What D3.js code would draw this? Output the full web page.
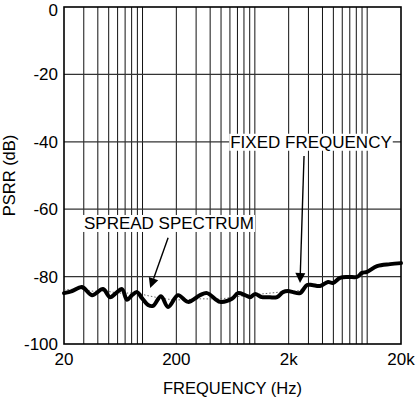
<!DOCTYPE html>
<html><head><meta charset="utf-8">
<script src="https://cdn.jsdelivr.net/npm/d3@7"></script>
<style>
html,body{margin:0;padding:0;background:#fff;}
svg{display:block;font-family:"Liberation Sans",Arial,sans-serif;}
</style></head>
<body><svg id="c" width="416" height="401"></svg>
<script>
// ---- data ----
const xTickValues = [20, 200, 2000, 20000];
const xTickLabels = ["20", "200", "2k", "20k"];
const yTickValues = [0, -20, -40, -60, -80, -100];
const yTickLabels = ["0", "-20", "-40", "-60", "-80", "-100"];

const spreadFreq = [20, 23.6, 28.9, 35.5, 44.5, 51.3, 59.3, 65.7, 72.8, 80.6, 89.3, 98.9, 112, 124, 146, 169, 207, 254, 325, 375, 490, 626, 708, 818, 906, 1003, 1158, 1283, 1575, 1781, 1973, 2186, 2524, 2914, 3228, 3802, 4480, 4962, 5730, 6751, 8118, 8994, 9963, 12232, 15962, 20000];
const spreadDb = [-84.9, -84.3, -83.1, -85.5, -83.7, -86.1, -84.6, -83.7, -86.9, -85.5, -84.6, -86.4, -88.4, -88.7, -85.8, -89.0, -85.5, -87.5, -85.5, -84.9, -87.5, -86.6, -84.9, -85.5, -86.1, -85.2, -86.1, -86.1, -86.1, -84.6, -84.3, -84.6, -84.9, -82.5, -82.5, -82.8, -81.6, -81.9, -80.4, -80.1, -80.1, -78.9, -78.6, -76.9, -76.3, -76.0];

const fixedFreq = [20, 27.8, 35.5, 46.3, 63, 85.7, 117, 159, 216, 325, 490, 738, 1111, 1675, 2524, 2914, 3228, 3802, 4480, 4962, 5730, 6751, 8118, 8994, 9963, 12232, 15962, 20000];
const fixedDb = [-84.0, -83.7, -84.3, -84.3, -84.9, -84.9, -85.8, -86.6, -86.9, -86.6, -86.6, -85.8, -85.2, -84.6, -84.0, -82.5, -82.5, -82.8, -81.6, -81.9, -80.4, -80.1, -80.1, -78.9, -78.6, -76.9, -76.3, -76.0];

const annTexts = ["SPREAD SPECTRUM", "FIXED FREQUENCY"];
const annTextFreq = [172, 3162];
const annTextDb = [-64.1, -40];
const annTailFreq = [169, 2740];
const annTailDb = [-68.5, -44.2];
const annTipFreq = [117, 2524];
const annTipDb = [-83.4, -81.9];

// ---- chart ----
const svg = d3.select("#c");
const L = 64, R = 401, T = 7, B = 344;
const x = d3.scaleLog().domain([20, 20000]).range([L, R]);
const y = d3.scaleLinear().domain([-100, 0]).range([B, T]);

// grid: vertical log lines
const vGrid = [];
[10, 100, 1000, 10000].forEach(d => { for (let k = 1; k <= 9; k++) { const v = d * k; if (v > 20 && v < 20000) vGrid.push(v); } });
svg.append("g").selectAll("line").data(vGrid).join("line")
  .attr("x1", d => x(d)).attr("x2", d => x(d)).attr("y1", T).attr("y2", B)
  .attr("stroke", "#111").attr("stroke-width", 1);
svg.append("g").selectAll("line").data(yTickValues.filter(v => v > -100 && v < 0)).join("line")
  .attr("x1", L).attr("x2", R).attr("y1", d => y(d)).attr("y2", d => y(d))
  .attr("stroke", "#333").attr("stroke-width", 1.2);

// frame
svg.append("rect").attr("x", L).attr("y", T).attr("width", R - L).attr("height", B - T)
  .attr("fill", "none").attr("stroke", "#000").attr("stroke-width", 1.6);

// tick labels
svg.append("g").selectAll("text").data(yTickValues).join("text")
  .attr("x", 58).attr("y", d => Math.max(y(d) + 6, 16)).attr("text-anchor", "end")
  .attr("font-size", 17).text((d, i) => yTickLabels[i]);
svg.append("g").selectAll("text").data(xTickValues).join("text")
  .attr("x", d => x(d)).attr("y", 365).attr("text-anchor", "middle")
  .attr("font-size", 17).text((d, i) => xTickLabels[i]);

// axis titles
svg.append("text").attr("transform", `translate(15,${(T + B) / 2}) rotate(-90)`)
  .attr("text-anchor", "middle").attr("font-size", 16.5).text("PSRR (dB)");
svg.append("text").attr("x", (L + R) / 2).attr("y", 394).attr("text-anchor", "middle")
  .attr("font-size", 16.5).text("FREQUENCY (Hz)");

// lines
const line = d3.line().x(d => x(d[0])).y(d => y(d[1])).curve(d3.curveCatmullRom.alpha(0.5));
svg.append("path").datum(fixedFreq.map((f, i) => [f, fixedDb[i]]))
  .attr("d", line).attr("fill", "none").attr("stroke", "#666").attr("stroke-width", 1)
  .attr("stroke-dasharray", "1.5,2");
svg.append("path").datum(spreadFreq.map((f, i) => [f, spreadDb[i]]))
  .attr("d", line).attr("fill", "none").attr("stroke", "#000").attr("stroke-width", 4)
  .attr("stroke-linejoin", "round").attr("stroke-linecap", "round");

// annotations
annTexts.forEach((t, i) => {
  const g = svg.append("g");
  const tx = g.append("text").attr("x", x(annTextFreq[i])).attr("y", y(annTextDb[i]))
    .attr("dy", "0.35em").attr("text-anchor", "middle").attr("font-size", 17).text(t);
  const bb = tx.node().getBBox();
  g.insert("rect", "text").attr("x", bb.x - 1).attr("y", bb.y + 1).attr("width", bb.width + 2)
    .attr("height", bb.height - 2).attr("fill", "#fff");
  const x0 = x(annTailFreq[i]), y0 = y(annTailDb[i]), x1 = x(annTipFreq[i]), y1 = y(annTipDb[i]);
  const ang = Math.atan2(y1 - y0, x1 - x0), hl = 10, hw = 5;
  const bx = x1 - hl * Math.cos(ang), by = y1 - hl * Math.sin(ang);
  g.append("line").attr("x1", x0).attr("y1", y0).attr("x2", bx).attr("y2", by)
    .attr("stroke", "#000").attr("stroke-width", 1.4);
  g.append("path").attr("d", `M${x1},${y1}L${bx + hw * Math.sin(ang)},${by - hw * Math.cos(ang)}L${bx - hw * Math.sin(ang)},${by + hw * Math.cos(ang)}Z`)
    .attr("fill", "#000");
});
</script></body></html>
